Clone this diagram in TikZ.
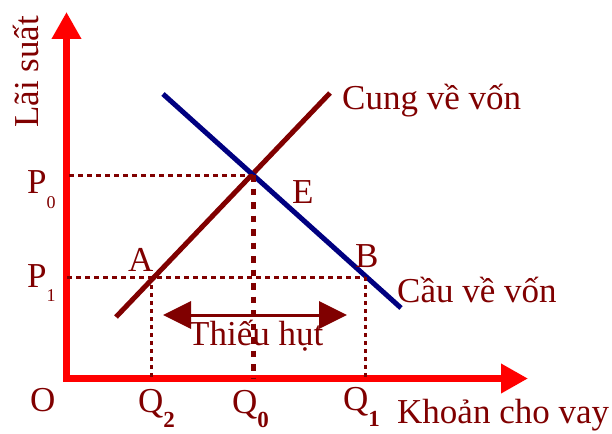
\documentclass[tikz,border=0pt]{standalone}
\usepackage{fontspec}
\setmainfont{Liberation Serif}
\usepackage{tikz}
\usetikzlibrary{arrows.meta}
\definecolor{lineRed}{RGB}{255, 0, 0}
\definecolor{darkRed}{RGB}{128, 0, 0}
\definecolor{lineNavy}{RGB}{0, 0, 128}
\newcommand{\lowidx}[3]{\raisebox{-#1}{\fontsize{#2}{#2}\selectfont #3}}

\begin{document}
\begin{tikzpicture}[x=1pt, y=-1pt,
    every node/.style={font=\fontsize{35}{42}\selectfont, text=darkRed, inner sep=0pt},
    axis/.style={lineRed, line width=7pt, line join=miter,
      {Triangle[length=27pt, width=28pt]}-{Triangle[length=27pt, width=28pt]}},
    guide/.style={darkRed, line width=3pt, dash pattern=on 5pt off 4pt},
    curve/.style={line width=5pt}]
      \useasboundingbox (0,0) rectangle (612,433);

      % Axes
      \coordinate (O) at (66.5,378.5);
      \coordinate (ytip) at (66.5,12);
      \coordinate (xtip) at (528,378.5);
      \draw[axis] (ytip) -- (O) -- (xtip);

      % Supply and demand
      \coordinate (s1) at (116,317);
      \coordinate (s2) at (330,93);
      \coordinate (d1) at (163,94);
      \coordinate (d2) at (401,308);
      \draw[curve, darkRed] (s1) -- (s2);
      \draw[curve, lineNavy] (d1) -- (d2);

      % Equilibrium E = (253,175), A and B on P1 = 277
      \coordinate (eq) at (253,175);
      \coordinate (pA) at (151,277);
      \coordinate (pB) at (365,277);
      \coordinate (p0) at (69,175);
      \coordinate (p1) at (67,277);
      \coordinate (q2) at (151,378);
      \coordinate (q0) at (253,378);
      \coordinate (q1) at (365,378);

      % Guide lines
      \draw[guide] (p0) -- (eq);
      \draw[guide] (p1) -- (pB);
      \draw[guide, line width=5pt, dash pattern=on 6.5pt off 7pt] (eq) -- (q0);
      \draw[guide, dash pattern=on 4pt off 4pt] (pA) -- (q2);
      \draw[guide, dash pattern=on 4pt off 4pt] (pB) -- (q1);

      % Shortage
      \coordinate (gapL) at (163,315);
      \coordinate (gapR) at (347,315);
      \draw[darkRed, line width=3pt,
        {Triangle[length=28pt, width=27pt]}-{Triangle[length=28pt, width=27pt]}] (gapL) -- (gapR);

      % Labels
      \node[rotate=90, anchor=base] (ylab) at (38,72) {Lãi suất};
      \node[anchor=base west] (xlab) at (397,423) {Khoản cho vay};
      \node[anchor=base west] (olab) at (30,411) {O};
      \node[anchor=base west] (p0lab) at (27,193) {P\lowidx{15pt}{18}{0}};
      \node[anchor=base west] (p1lab) at (27,287) {P\lowidx{14pt}{18}{1}};
      \node[anchor=base west] (q2lab) at (138,412) {Q\lowidx{15pt}{23}{\bfseries 2}};
      \node[anchor=base west] (q0lab) at (232,413) {Q\lowidx{14pt}{23}{\bfseries 0}};
      \node[anchor=base west] (q1lab) at (343,410) {Q\lowidx{16pt}{23}{\bfseries 1}};
      \node[anchor=base west] (alab) at (128,271) {A};
      \node[anchor=base west] (blab) at (355,267) {B};
      \node[anchor=base west] (elab) at (292,203) {E};
      \node[anchor=base west] (slab) at (342,110) {Cung về vốn};
      \node[anchor=base west] (dlab) at (397,302) {Cầu về vốn};
      \node[anchor=base west] (gaplab) at (188,345) {Thiếu hụt};
    \end{tikzpicture}
\end{document}
